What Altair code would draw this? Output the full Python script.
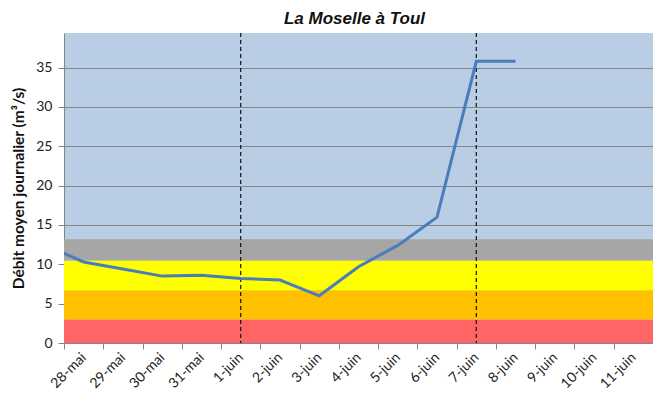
import altair as alt
import pandas as pd

# Category labels (x axis), index 0 = 28-mai
days = ["28-mai", "29-mai", "30-mai", "31-mai", "1-juin", "2-juin", "3-juin",
        "4-juin", "5-juin", "6-juin", "7-juin", "8-juin", "9-juin", "10-juin", "11-juin"]

# Daily flow: index -1 is 27-mai (only partly visible at the left edge)
flow_index = [-1, 0, 1, 2, 3, 4, 5, 6, 7, 8, 9, 10, 11]
flow_values = [12.5, 10.3, 9.4, 8.5, 8.6, 8.2, 8.0, 6.0, 9.7, 12.4, 16.0, 35.8, 35.8]

# Threshold bands
band_low = [0, 3, 6.7, 10.5]
band_high = [3, 6.7, 10.5, 13.2]
band_colors = ["#FF6565", "#FFC000", "#FFFF00", "#A6A6A6"]

# Dashed vertical markers (1-juin, 7-juin)
event_index = [4, 10]

# Tick boundaries between categories
tick_bounds = [i - 0.5 for i in range(len(days) + 1)]

W, H = 589, 310
FONT = "Lato"

flow_df = pd.DataFrame({"i": flow_index, "q": flow_values})
band_df = pd.DataFrame({"lo": band_low, "hi": band_high, "c": band_colors})
event_df = pd.DataFrame({"i": event_index})

xscale = alt.Scale(domain=[-0.5, len(days) - 0.5], nice=False, zero=False)
yscale = alt.Scale(domain=[0, 39.4], nice=False, zero=True)

label_expr = "[" + ",".join("'" + d + "'" for d in days) + "][datum.value]"

yaxis = alt.Axis(
    title="Débit moyen journalier (m³/s)", values=[0, 5, 10, 15, 20, 25, 30, 35],
    grid=True, gridColor="#868686", gridWidth=1.2,
    domainColor="#868686", tickColor="#868686", tickSize=6,
    labelFont=FONT, labelFontSize=14, labelColor="#222222", labelPadding=6,
    titleFont=FONT, titleFontSize=15.5, titleFontWeight="bold", titleColor="#111111",
    titlePadding=9)

bands = alt.Chart(band_df).mark_rect().encode(
    x=alt.value(0), x2=alt.value(W),
    y=alt.Y("lo:Q", scale=yscale, axis=yaxis),
    y2="hi:Q",
    color=alt.Color("c:N", scale=None),
)

events = alt.Chart(event_df).mark_rule(color="#111111", strokeDash=[4, 3], strokeWidth=1.2).encode(
    x=alt.X("i:Q", scale=xscale, axis=alt.Axis(
        orient="bottom", values=tick_bounds, labels=False, title=None, grid=False,
        domainColor="#868686", tickColor="#868686", tickSize=6)),
    y=alt.value(0), y2=alt.value(H),
)

line = alt.Chart(flow_df).mark_line(color="#4A7EBB", strokeWidth=3, clip=True).encode(
    x=alt.X("i:Q", scale=xscale, axis=alt.Axis(
        orient="bottom", values=list(range(len(days))), labelExpr=label_expr,
        ticks=False, domain=False, grid=False, title=None, labelOverlap=False,
        labelAngle=-45, labelAlign="right", labelBaseline="middle", labelPadding=12,
        labelFont=FONT, labelFontSize=14, labelColor="#222222")),
    y=alt.Y("q:Q", scale=yscale, axis=yaxis),
)

chart = alt.layer(bands, events, line).resolve_axis(x="independent").properties(
    width=W, height=H,
    title=alt.TitleParams("La Moselle à Toul", font="Liberation Sans", fontSize=17,
                          fontStyle="italic", fontWeight="bold", anchor="middle",
                          color="#111111", offset=4, dx=-4),
    autosize=alt.AutoSizeParams(type="none"),
    padding={"left": 56, "top": 25, "right": 0, "bottom": 54},
).configure_view(fill="#B9CDE5", stroke=None)

chart.save("out.html", embed_options={"renderer": "svg", "actions": False})
